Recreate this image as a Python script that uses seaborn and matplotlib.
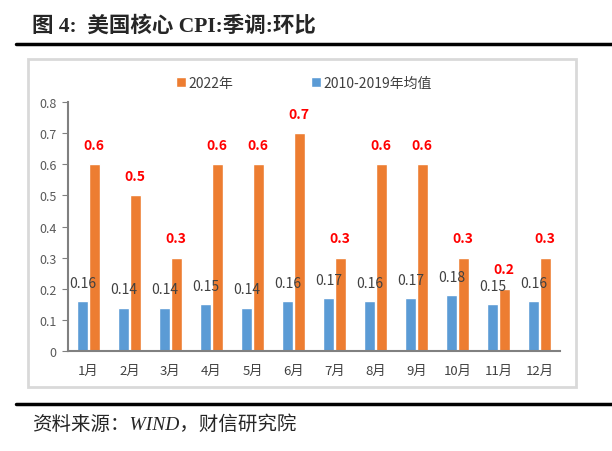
import matplotlib
matplotlib.use('Agg')
import matplotlib.pyplot as plt
from matplotlib.lines import Line2D
from matplotlib.patches import Rectangle
import seaborn as sns
import pandas as pd

months = ['1月', '2月', '3月', '4月', '5月', '6月', '7月', '8月', '9月', '10月', '11月', '12月']
avg_2010_2019 = [0.16, 0.14, 0.14, 0.15, 0.14, 0.16, 0.17, 0.16, 0.17, 0.18, 0.15, 0.16]
y2022 = [0.6, 0.5, 0.3, 0.6, 0.6, 0.7, 0.3, 0.6, 0.6, 0.3, 0.2, 0.3]
series_avg = '2010-2019年均值'
series_2022 = '2022年'
yticks = [0, 0.1, 0.2, 0.3, 0.4, 0.5, 0.6, 0.7, 0.8]

df = pd.concat([
    pd.DataFrame({'month': months, 'value': avg_2010_2019, 'series': series_avg}),
    pd.DataFrame({'month': months, 'value': y2022, 'series': series_2022}),
])

sns.set_style('white')
plt.rcParams['font.family'] = ['Noto Sans CJK SC', 'DejaVu Sans']

fig = plt.figure(figsize=(6.12, 4.52), dpi=100)
ax = fig.add_axes([0.111, 0.221, 0.804, 0.551])

sns.barplot(data=df, x='month', y='value', hue='series',
            hue_order=[series_avg, series_2022],
            palette=['#5B9BD5', '#ED7D31'], saturation=1, width=0.56, gap=0.05,
            ax=ax, errorbar=None)

blue_bars, orange_bars = ax.containers[0], ax.containers[1]
ax.bar_label(blue_bars, labels=[f'{v:.2f}' for v in avg_2010_2019],
             padding=8, fontsize=10, color='#404040')
ax.bar_label(orange_bars, labels=[f'{v:.1f}' for v in y2022],
             padding=9, fontsize=10, color='#FF0000', fontweight='bold')

ax.set_ylim(0, 0.8)
ax.set_yticks(yticks)
ax.set_yticklabels(['0' if t == 0 else f'{t:.1f}' for t in yticks])
ax.set_xlim(-0.5, len(months) - 0.5)
ax.set_xlabel('')
ax.set_ylabel('')
for s in ['top', 'right']:
    ax.spines[s].set_visible(False)
for s in ['left', 'bottom']:
    ax.spines[s].set_color('#808080')
    ax.spines[s].set_linewidth(1.5)
ax.tick_params(axis='y', which='both', left=True, length=4, color='#808080',
               labelsize=9, labelcolor='#595959', pad=4)
ax.tick_params(axis='x', bottom=False, labelsize=9.5, labelcolor='#404040', pad=6)

handles, labels = ax.get_legend_handles_labels()
ax.legend([handles[1], handles[0]], [labels[1], labels[0]],
          loc='center', bbox_to_anchor=(0.48, 1.077), ncol=2, frameon=False,
          handlelength=0.7, handleheight=0.7, handletextpad=0.2,
          columnspacing=5.6, fontsize=10, labelcolor='#404040')

# chart box and page decorations
fig.add_artist(Rectangle((28 / 612, 1 - 388 / 452), 548 / 612, 328 / 452,
                         transform=fig.transFigure, fill=False,
                         edgecolor='#D9D9D9', linewidth=2))
fig.add_artist(Line2D([16 / 612, 1.0], [1 - 45 / 452, 1 - 45 / 452],
                      transform=fig.transFigure, color='black', linewidth=2.5))
fig.add_artist(Line2D([16 / 612, 1.0], [1 - 405 / 452, 1 - 405 / 452],
                      transform=fig.transFigure, color='black', linewidth=2.5))

fig.text(32 / 612, 1 - 26 / 452, '图 4:  美国核心 CPI:季调:环比',
         family=['Liberation Serif', 'Noto Sans CJK SC'], fontweight='bold',
         fontsize=15.5, va='center', ha='left')
fig.text(32 / 612, 1 - 425 / 452, '资料来源：WIND，财信研究院',
         family=['Liberation Serif', 'Noto Sans CJK SC'], style='italic',
         fontsize=14, va='center', ha='left')

fig.savefig('out.png', dpi=100)
